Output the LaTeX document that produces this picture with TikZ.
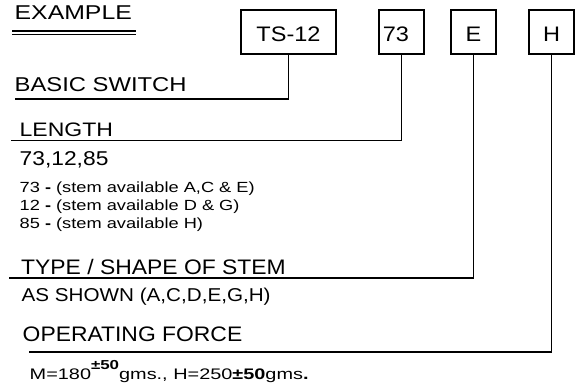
\documentclass[tikz,border=0pt]{standalone}
\usepackage{fontspec}
\usepackage{graphicx}
\setmainfont{Liberation Sans}
\newcommand\tx[3]{\scalebox{#1}[1]{\fontsize{#2}{#2}\selectfont #3}}
\tikzset{
  lbl/.style={anchor=base west, inner sep=0pt},
  codebox/.style={draw, line width=1.4pt, minimum width=45pt, minimum height=44pt, inner sep=0pt, text height=19pt, text depth=0pt},
  conn/.style={line width=1.7pt},
  rule/.style={line width=1.2pt}
}
\begin{document}
\begin{tikzpicture}[x=1pt, y=-1pt]
\useasboundingbox (0,0) rectangle (579,383);
% title
\node[lbl] (ex) at (14.5,19) {\tx{1.24}{20}{EXAMPLE}};
\coordinate (u1a) at (12.3,31); \coordinate (u1b) at (136,31);
\coordinate (u2a) at (12.3,34.3); \coordinate (u2b) at (136,34.3);
\draw[rule] (u1a) -- (u1b);
\draw[rule] (u2a) -- (u2b);
% code boxes
\node[codebox, minimum width=95pt] (ts) at (288.5,32) {\tx{1.12}{21}{TS-12}};
\node[codebox] (len) at (401.5,32) {\tx{1.12}{21}{73}\hspace*{11pt}};
\node[codebox] (typ) at (473.5,32) {\tx{1.12}{21}{E}};
\node[codebox] (frc) at (551.5,32) {\tx{1.12}{21}{H}};
% labels
\node[lbl] (bs) at (14.5,91.7) {\tx{1.19}{20}{BASIC SWITCH}};
\node[lbl] (lh) at (19.5,136.7) {\tx{1.18}{19.5}{LENGTH}};
\node[lbl] (lv) at (19.5,165) {\tx{1.14}{20}{73,12,85}};
\node[lbl] (l1) at (19.5,192) {\tx{1.24}{14.7}{73 {\bfseries -} (stem available A,C \& E)}};
\node[lbl] (l2) at (19.5,210) {\tx{1.24}{14.7}{12 {\bfseries -} (stem available D \& G)}};
\node[lbl] (l3) at (19.5,228) {\tx{1.24}{14.7}{85 {\bfseries -} (stem available H)}};
\node[lbl] (th) at (21,274.3) {\tx{1.09}{21}{TYPE / SHAPE OF STEM}};
\node[lbl] (tv) at (21.5,301) {\tx{1.11}{18.6}{AS SHOWN (A,C,D,E,G,H)}};
\node[lbl] (fh) at (22.5,341) {\tx{1.09}{21}{OPERATING FORCE}};
\node[lbl] (fv) at (29.5,379) {\tx{1.3}{15.3}{M=180\raisebox{9.5pt}{\fontsize{13}{13}\selectfont\bfseries ±50}gms., H=250{\bfseries ±50}gms{\bfseries .}}};
% connectors
\coordinate (bsL) at (15,99);
\coordinate (lhL) at (11,140.5);
\coordinate (thL) at (9,277.7);
\coordinate (fhL) at (29,352);
\draw[conn] (ts.south) |- (bsL);
\draw[conn] (len.south) |- (lhL);
\draw[conn] (typ.south) |- (thL);
\draw[conn] (frc.south) |- (fhL);
\end{tikzpicture}
\end{document}
